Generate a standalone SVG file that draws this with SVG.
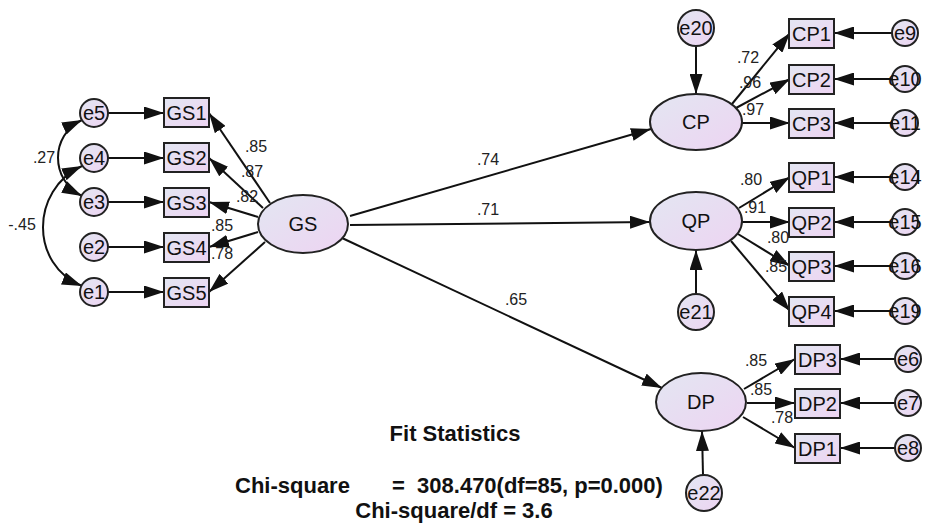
<svg xmlns="http://www.w3.org/2000/svg" width="925" height="525" viewBox="0 0 925 525">
<defs>
<linearGradient id="g" x1="0" y1="0" x2="1" y2="1">
<stop offset="0" stop-color="#e3e6f2"/>
<stop offset="1" stop-color="#edd4f2"/>
</linearGradient>
<marker id="ah" markerWidth="20" markerHeight="13" refX="20" refY="6.5" orient="auto-start-reverse" markerUnits="userSpaceOnUse">
<path d="M0,0 L20,6.5 L0,13 z" fill="#111"/>
</marker>
</defs>
<style>
.n{fill:url(#g);stroke:#222;stroke-width:2}
.t{font-family:"Liberation Sans",Arial,sans-serif;font-size:20px;fill:#111;text-anchor:middle}
.l{font-family:"Liberation Sans",Arial,sans-serif;font-size:16px;fill:#222;text-anchor:middle}
.b{font-family:"Liberation Sans",Arial,sans-serif;font-size:22px;font-weight:bold;fill:#111}
.c line,.c path{stroke:#111;stroke-width:2;fill:none;marker-end:url(#ah)}
.c .d{marker-start:url(#ah)}
</style>
<rect width="925" height="525" fill="#fff"/>
<g class="c" id="connectors">
<path class="d" d="M82,120 C50,135 50,180 82,196"/>
<path class="d" d="M82,166 C30,190 30,265 82,286"/>
<line x1="108" y1="113" x2="164" y2="113"/>
<line x1="108" y1="158" x2="164" y2="158"/>
<line x1="108" y1="202" x2="164" y2="202"/>
<line x1="108" y1="247" x2="164" y2="247"/>
<line x1="108" y1="292" x2="164" y2="292"/>
<line x1="270" y1="203" x2="209" y2="113"/>
<line x1="263" y1="208" x2="209" y2="158"/>
<line x1="258" y1="217" x2="209" y2="202"/>
<line x1="258" y1="232" x2="209" y2="247"/>
<line x1="265" y1="242" x2="209" y2="292"/>
<line x1="350" y1="216" x2="651" y2="129"/>
<line x1="350" y1="225" x2="650" y2="222"/>
<line x1="342" y1="238" x2="662" y2="388"/>
<line x1="696" y1="46" x2="696" y2="94"/>
<line x1="732" y1="104" x2="790" y2="33"/>
<line x1="736" y1="108" x2="790" y2="79"/>
<line x1="742" y1="123" x2="790" y2="123"/>
<line x1="892" y1="33" x2="834" y2="33"/>
<line x1="892" y1="79" x2="834" y2="79"/>
<line x1="892" y1="123" x2="834" y2="123"/>
<line x1="696" y1="294" x2="696" y2="250"/>
<line x1="739" y1="208" x2="790" y2="177"/>
<line x1="742" y1="222" x2="790" y2="222"/>
<line x1="738" y1="234" x2="790" y2="266"/>
<line x1="731" y1="241" x2="790" y2="311"/>
<line x1="892" y1="177" x2="834" y2="177"/>
<line x1="892" y1="222" x2="834" y2="222"/>
<line x1="892" y1="266" x2="834" y2="266"/>
<line x1="892" y1="311" x2="834" y2="311"/>
<line x1="703" y1="475" x2="702" y2="431"/>
<line x1="744" y1="389" x2="795" y2="359"/>
<line x1="747" y1="403" x2="795" y2="403"/>
<line x1="743" y1="417" x2="795" y2="448"/>
<line x1="895" y1="359" x2="840" y2="359"/>
<line x1="895" y1="403" x2="840" y2="403"/>
<line x1="895" y1="448" x2="840" y2="448"/>
</g>
<g id="path-labels">
<text class="l" x="44" y="163">.27</text>
<text class="l" x="22" y="230">-.45</text>
<text class="l" x="256" y="152">.85</text>
<text class="l" x="252" y="177">.87</text>
<text class="l" x="247" y="202">.82</text>
<text class="l" x="222" y="231">.85</text>
<text class="l" x="222" y="259">.78</text>
<text class="l" x="488" y="165">.74</text>
<text class="l" x="488" y="215">.71</text>
<text class="l" x="516" y="305">.65</text>
<text class="l" x="748" y="63">.72</text>
<text class="l" x="750" y="88">.96</text>
<text class="l" x="753" y="115">.97</text>
<text class="l" x="751" y="185">.80</text>
<text class="l" x="755" y="213">.91</text>
<text class="l" x="778" y="243">.80</text>
<text class="l" x="776" y="272">.85</text>
<text class="l" x="756" y="366">.85</text>
<text class="l" x="761" y="395">.85</text>
<text class="l" x="782" y="423">.78</text>
</g>
<g id="e5"><circle class="n" cx="94" cy="113" r="14"/><text class="t" x="94" y="120">e5</text></g>
<g id="e4"><circle class="n" cx="94" cy="158" r="14"/><text class="t" x="94" y="165">e4</text></g>
<g id="e3"><circle class="n" cx="94" cy="202" r="14"/><text class="t" x="94" y="209">e3</text></g>
<g id="e2"><circle class="n" cx="94" cy="247" r="14"/><text class="t" x="94" y="254">e2</text></g>
<g id="e1"><circle class="n" cx="94" cy="292" r="14"/><text class="t" x="94" y="299">e1</text></g>
<g id="GS1"><rect class="n" x="164" y="98" width="45" height="29"/><text class="t" x="186.5" y="120">GS1</text></g>
<g id="GS2"><rect class="n" x="164" y="143" width="45" height="29"/><text class="t" x="186.5" y="165">GS2</text></g>
<g id="GS3"><rect class="n" x="164" y="188" width="45" height="29"/><text class="t" x="186.5" y="210">GS3</text></g>
<g id="GS4"><rect class="n" x="164" y="233" width="45" height="29"/><text class="t" x="186.5" y="255">GS4</text></g>
<g id="GS5"><rect class="n" x="164" y="278" width="45" height="29"/><text class="t" x="186.5" y="300">GS5</text></g>
<g id="GS"><ellipse class="n" cx="303" cy="224" rx="45" ry="29"/><text class="t" x="303" y="231">GS</text></g>
<g id="e20"><circle class="n" cx="696" cy="28" r="18"/><text class="t" x="696" y="35">e20</text></g>
<g id="CP"><ellipse class="n" cx="696" cy="122" rx="46" ry="28"/><text class="t" x="696" y="129">CP</text></g>
<g id="CP1"><rect class="n" x="789" y="19" width="45" height="29"/><text class="t" x="811.5" y="41">CP1</text></g>
<g id="CP2"><rect class="n" x="789" y="65" width="45" height="29"/><text class="t" x="811.5" y="87">CP2</text></g>
<g id="CP3"><rect class="n" x="789" y="109" width="45" height="29"/><text class="t" x="811.5" y="131">CP3</text></g>
<g id="e9"><circle class="n" cx="905" cy="33" r="13"/><text class="t" x="905" y="40">e9</text></g>
<g id="e10"><circle class="n" cx="905" cy="79" r="13"/><text class="t" x="905" y="86">e10</text></g>
<g id="e11"><circle class="n" cx="905" cy="123" r="13"/><text class="t" x="905" y="130">e11</text></g>
<g id="QP"><ellipse class="n" cx="696" cy="221" rx="46" ry="29"/><text class="t" x="696" y="228">QP</text></g>
<g id="e21"><circle class="n" cx="696" cy="312" r="18"/><text class="t" x="696" y="319">e21</text></g>
<g id="QP1"><rect class="n" x="789" y="163" width="45" height="29"/><text class="t" x="811.5" y="185">QP1</text></g>
<g id="QP2"><rect class="n" x="789" y="208" width="45" height="29"/><text class="t" x="811.5" y="230">QP2</text></g>
<g id="QP3"><rect class="n" x="789" y="252" width="45" height="29"/><text class="t" x="811.5" y="274">QP3</text></g>
<g id="QP4"><rect class="n" x="789" y="297" width="45" height="29"/><text class="t" x="811.5" y="319">QP4</text></g>
<g id="e14"><circle class="n" cx="905" cy="177" r="13"/><text class="t" x="905" y="184">e14</text></g>
<g id="e15"><circle class="n" cx="905" cy="222" r="13"/><text class="t" x="905" y="229">e15</text></g>
<g id="e16"><circle class="n" cx="905" cy="266" r="13"/><text class="t" x="905" y="273">e16</text></g>
<g id="e19"><circle class="n" cx="905" cy="311" r="13"/><text class="t" x="905" y="318">e19</text></g>
<g id="DP"><ellipse class="n" cx="701" cy="402" rx="45" ry="29"/><text class="t" x="701" y="409">DP</text></g>
<g id="e22"><circle class="n" cx="704" cy="493" r="18"/><text class="t" x="704" y="500">e22</text></g>
<g id="DP3"><rect class="n" x="795" y="345" width="45" height="29"/><text class="t" x="817.5" y="367">DP3</text></g>
<g id="DP2"><rect class="n" x="795" y="389" width="45" height="29"/><text class="t" x="817.5" y="411">DP2</text></g>
<g id="DP1"><rect class="n" x="795" y="434" width="45" height="29"/><text class="t" x="817.5" y="456">DP1</text></g>
<g id="e6"><circle class="n" cx="908" cy="359" r="13"/><text class="t" x="908" y="366">e6</text></g>
<g id="e7"><circle class="n" cx="908" cy="403" r="13"/><text class="t" x="908" y="410">e7</text></g>
<g id="e8"><circle class="n" cx="908" cy="448" r="13"/><text class="t" x="908" y="455">e8</text></g>
<g id="fit-statistics">
<text class="b" x="455" y="441" text-anchor="middle">Fit Statistics</text>
<text class="b" y="493"><tspan x="235">Chi-square</tspan><tspan x="392" xml:space="preserve">=  308.470(df=85, p=0.000)</tspan></text>
<text class="b" x="454" y="518" text-anchor="middle">Chi-square/df = 3.6</text>
</g>
</svg>
